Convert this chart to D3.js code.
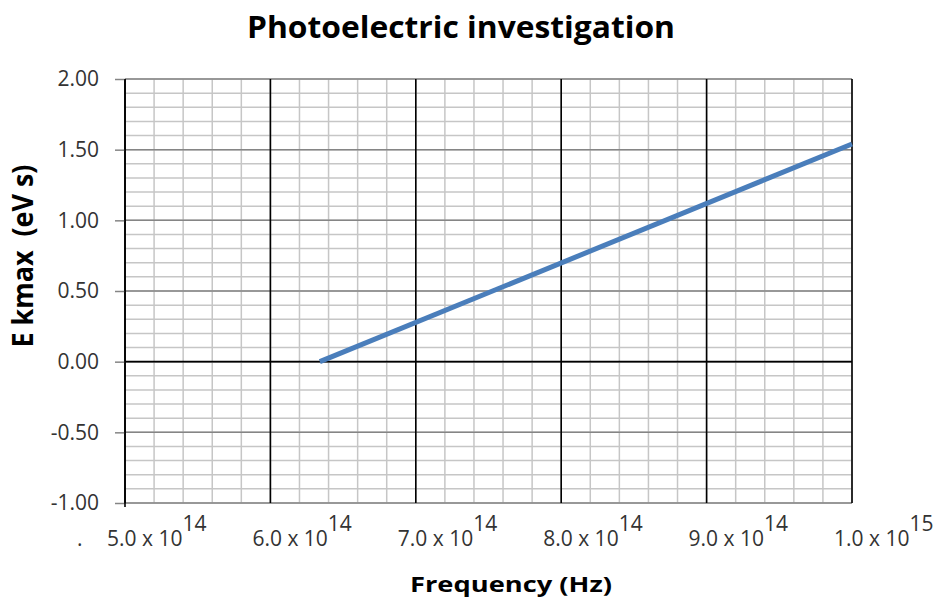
<!DOCTYPE html>
<html><head><meta charset="utf-8">
<script src="https://cdn.jsdelivr.net/npm/d3@7"></script>
<style>
body{margin:0;background:#fff}
svg text{font-family:"Open Sans",sans-serif}
</style>
</head><body>
<svg id="c" width="949" height="600"></svg>
<script>
// ---- data ----
const chartTitle = "Photoelectric investigation";
const xTitle = "Frequency (Hz)";
const yTitle = "E kmax  (eV s)";
const frequency = [6.34e14, 1.0e15];
const energy = [0.0, 1.54];
const xTickValues = [5e14, 6e14, 7e14, 8e14, 9e14, 1e15];
const xTickMantissa = ["5.0", "6.0", "7.0", "8.0", "9.0", "1.0"];
const xTickExponent = ["14", "14", "14", "14", "14", "15"];
const yTickValues = [-1, -0.5, 0, 0.5, 1, 1.5, 2];

// ---- layout ----
const svg = d3.select("#c");
const L = 125, R = 852, T = 79, B = 503;
const x = d3.scaleLinear().domain([5e14, 1e15]).range([L, R]);
const y = d3.scaleLinear().domain([-1, 2]).range([B, T]);

const g = svg.append("g");

// minor grid
const xMinor = x.ticks(25), yMinor = y.ticks(30);
g.selectAll(".xm").data(xMinor).join("line")
  .attr("x1", d => x(d)).attr("x2", d => x(d)).attr("y1", T).attr("y2", B)
  .attr("stroke", "#c6c6c6").attr("stroke-width", 1.5);
g.selectAll(".ym").data(yMinor).join("line")
  .attr("class","ym")
  .attr("x1", L).attr("x2", R).attr("y1", d => y(d)).attr("y2", d => y(d))
  .attr("stroke", "#c6c6c6").attr("stroke-width", 1.5);

// major horizontal grid
g.selectAll(".yM").data(yTickValues).join("line")
  .attr("class","yM")
  .attr("x1", L).attr("x2", R).attr("y1", d => y(d)).attr("y2", d => y(d))
  .attr("stroke", "#858585").attr("stroke-width", 1.5);

// major vertical grid (black)
g.selectAll(".xM").data(xTickValues).join("line")
  .attr("class","xM")
  .attr("x1", d => x(d)).attr("x2", d => x(d)).attr("y1", T).attr("y2", B)
  .attr("stroke", "#000").attr("stroke-width", 1.6);

// zero line
g.append("line").attr("x1", L).attr("x2", R).attr("y1", y(0)).attr("y2", y(0))
  .attr("stroke", "#000").attr("stroke-width", 1.6);

// y axis
const yAxis = d3.axisLeft(y).tickValues(yTickValues)
  .tickFormat(d => d.toFixed(2)).tickSize(10).tickPadding(16);
const ya = svg.append("g").attr("transform", `translate(${L},0)`).call(yAxis);
ya.select(".domain").remove();
ya.selectAll(".tick line").attr("stroke", "#858585").attr("stroke-width", 1.5);
ya.selectAll(".tick text").attr("font-size", 21).attr("fill", "#333")
  .style("font-family", '"Open Sans",sans-serif');

// left axis line
svg.append("line").attr("x1", L).attr("x2", L).attr("y1", T).attr("y2", B + 4)
  .attr("stroke", "#000").attr("stroke-width", 1.6);

// data line
const line = d3.line().x(d => x(d[0])).y(d => y(d[1]));
svg.append("path").datum(d3.zip(frequency, energy))
  .attr("d", line).attr("fill", "none")
  .attr("stroke", "#4a7ebb").attr("stroke-width", 5);

// x tick labels (scientific notation)
const xl = svg.append("g");
xTickValues.forEach((v, i) => {
  const t = xl.append("text").attr("x", x(v) - 18).attr("y", 546)
    .attr("font-size", 21).attr("fill", "#333");
  t.append("tspan").text(xTickMantissa[i] + " x 10");
  t.append("tspan").attr("dy", -15).text(xTickExponent[i]);
});
svg.append("text").attr("x", x(5e14) - 48).attr("y", 546)
  .attr("font-size", 21).attr("fill", "#333").text(".");

// titles
svg.append("text").attr("x", 461).attr("y", 38).attr("text-anchor", "middle")
  .attr("font-size", 30).attr("font-weight", "bold").attr("fill", "#000")
  .attr("textLength", 428).attr("lengthAdjust", "spacingAndGlyphs")
  .text(chartTitle);

svg.append("text").attr("x", 511).attr("y", 592).attr("text-anchor", "middle")
  .attr("font-size", 21).attr("font-weight", "bold").attr("fill", "#000")
  .attr("textLength", 202).attr("lengthAdjust", "spacingAndGlyphs")
  .text(xTitle);

svg.append("text").attr("transform", "translate(33,256) rotate(-90)")
  .attr("text-anchor", "middle").style("white-space", "pre")
  .attr("font-size", 29).attr("font-weight", "bold").attr("fill", "#000")
  .attr("textLength", 183).attr("lengthAdjust", "spacingAndGlyphs")
  .text(yTitle);
</script>
</body></html>
